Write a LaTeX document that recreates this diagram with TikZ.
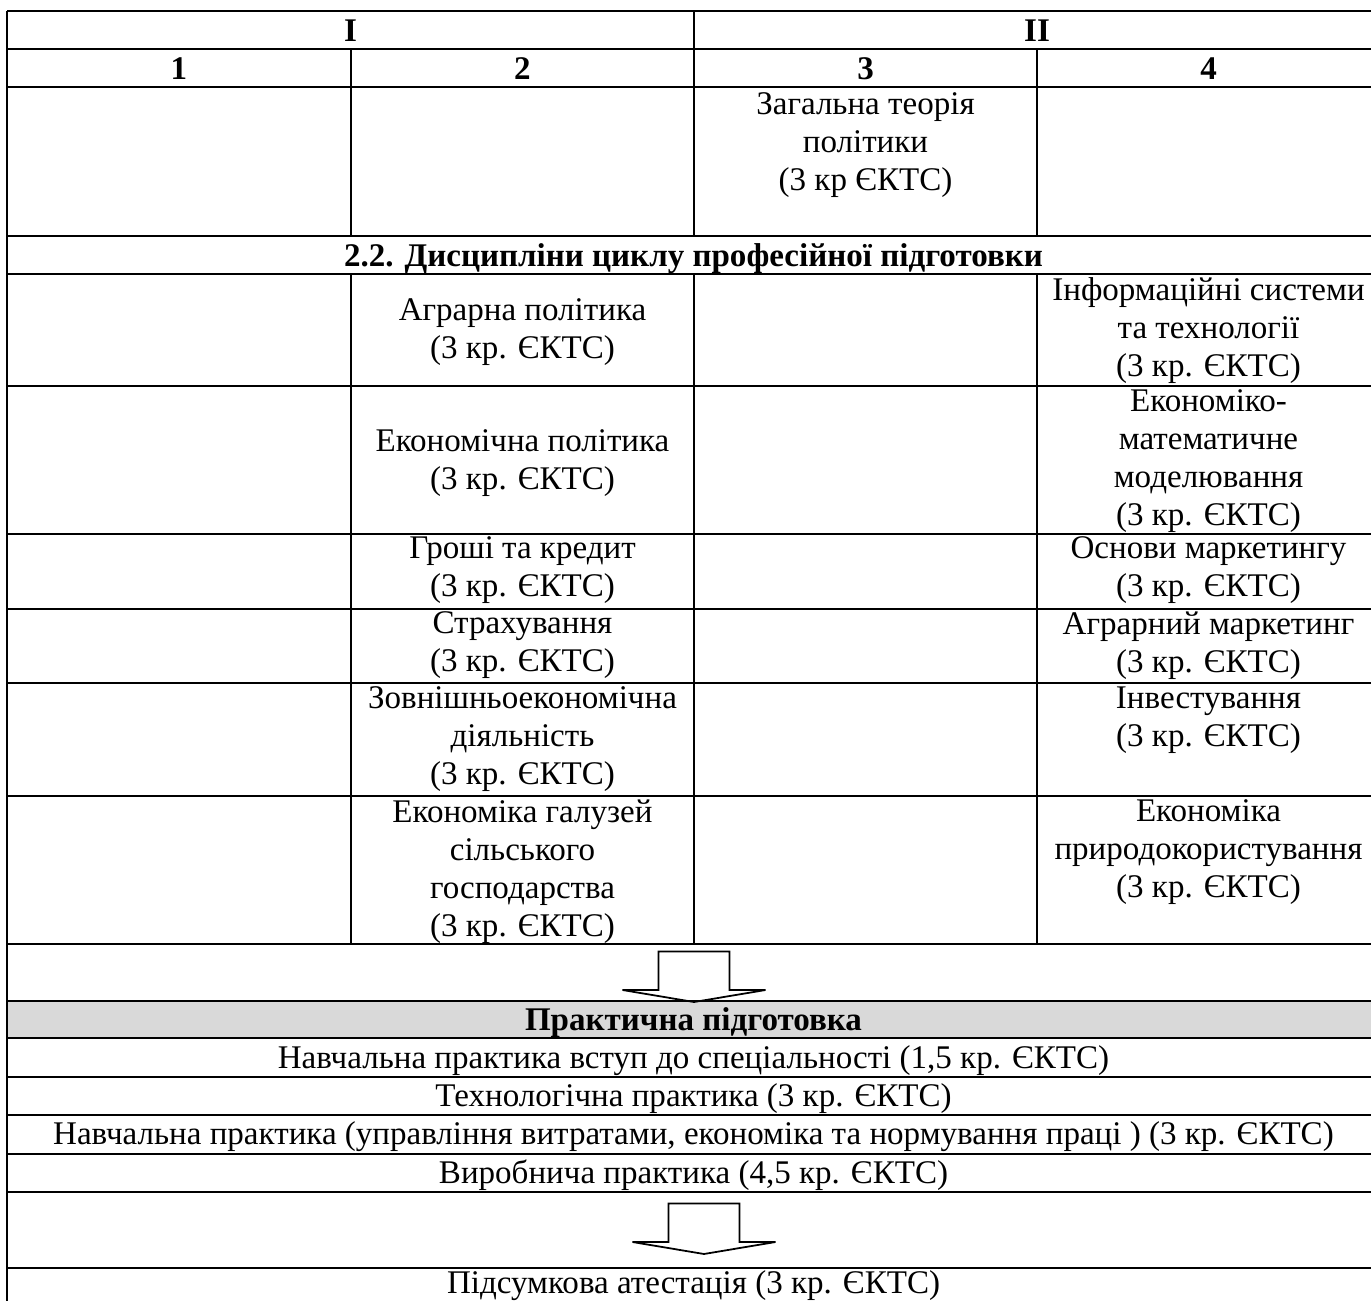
\documentclass[tikz,border=0pt]{standalone}
\usepackage{fontspec}
\setmainfont{Liberation Serif}
\usetikzlibrary{positioning}
\definecolor{pracgray}{HTML}{D9D9D9}
\newcommand{\cellfont}{\fontsize{14}{16.1}\selectfont}

\tikzset{
  cell/.style={inner sep=0pt, align=center, anchor=north, font=\cellfont, execute at begin node=\strut},
  headcell/.style={cell, font=\cellfont\bfseries},
  tabrule/.style={line width=1.05pt},
  blockarrow/.style={line width=0.75pt, line join=miter}
}

\begin{document}
\begin{tikzpicture}[x=0.4237pt,y=-0.4237pt]
\useasboundingbox (0,0) rectangle (1371,1301);
\clip (0,0) rectangle (1371,1301);
\fill[white] (0,0) rectangle (1371,1301);

% Grey row
\fill[pracgray] (7,1001) rectangle (1380,1038);

% Horizontal rules
\foreach \y in {11,49,87,236,274,386,534,609,683,796,944,1001,1038,1077,1115,1154,1192,1268}
  \draw[tabrule] (7,\y) -- (1380,\y);

% Vertical rules
\draw[tabrule] (7,11) -- (7,1310);
\draw[tabrule] (1380,11) -- (1380,1310);
\draw[tabrule] (694,11) -- (694,236);
\draw[tabrule] (694,274) -- (694,944);
\foreach \x in {351,1037}{
  \draw[tabrule] (\x,49) -- (\x,236);
  \draw[tabrule] (\x,274) -- (\x,944);
}

% Header
\node[headcell] (hI) at (350.5,14) {I};
\node[headcell] (hII) at (1037,14) {II};
\node[headcell] (c1) at (179,52) {1};
\node[headcell] (c2) at (522.5,52) {2};
\node[headcell] (c3) at (865.5,52) {3};
\node[headcell] (c4) at (1208.5,52) {4};

\node[cell] (zag) at (865.5,92) {Загальна теорія\\політики\\(3 кр ЄКТС)};

\node[headcell] (dys) at (693.5,239) {2.2. Дисципліни циклу професійної підготовки};

% Column 2
\node[cell] (agr) at (522.5,298) {Аграрна політика\\(3 кр. ЄКТС)};
\node[cell] (ekp) at (522.5,429) {Економічна політика\\(3 кр. ЄКТС)};
\node[cell] (gro) at (522.5,536) {Гроші та кредит\\(3 кр. ЄКТС)};
\node[cell] (str) at (522.5,611) {Страхування\\(3 кр. ЄКТС)};
\node[cell] (zov) at (522.5,686) {Зовнішньоекономічна\\діяльність\\(3 кр. ЄКТС)};
\node[cell] (ekg) at (522.5,799) {Економіка галузей\\сільського\\господарства\\(3 кр. ЄКТС)};

% Column 4
\node[cell] (inf) at (1208.5,277) {Інформаційні системи\\та технології\\(3 кр. ЄКТС)};
\node[cell] (emm) at (1208.5,389) {Економіко-\\математичне\\моделювання\\(3 кр. ЄКТС)};
\node[cell] (osn) at (1208.5,536) {Основи маркетингу\\(3 кр. ЄКТС)};
\node[cell] (amk) at (1208.5,611) {Аграрний маркетинг\\(3 кр. ЄКТС)};
\node[cell] (inv) at (1208.5,686) {Інвестування\\(3 кр. ЄКТС)};
\node[cell] (epr) at (1208.5,799) {Економіка\\природокористування\\(3 кр. ЄКТС)};

% Practice
\node[headcell] (prak) at (693.5,1003) {Практична підготовка};
\node[cell] (nv1) at (693.5,1041) {Навчальна практика вступ до спеціальності (1,5 кр. ЄКТС)};
\node[cell] (tech) at (693.5,1079) {Технологічна практика (3 кр. ЄКТС)};
\node[cell] (nv2) at (693.5,1117) {Навчальна практика (управління витратами, економіка та нормування праці ) (3 кр. ЄКТС)};
\node[cell] (vyr) at (693.5,1156) {Виробнича практика (4,5 кр. ЄКТС)};
\node[cell] (pids) at (693.5,1266) {Підсумкова атестація (3 кр. ЄКТС)};

% Block arrows
\foreach \t in {(694,1002),(704,1254)}
  \draw[blockarrow,shift={\t}] (-35.5,-50.5) -- (35.5,-50.5) -- (35.5,-12) -- (71.5,-12)
    -- (0,0) -- (-71.5,-12) -- (-35.5,-12) -- cycle;
\end{tikzpicture}
\end{document}
